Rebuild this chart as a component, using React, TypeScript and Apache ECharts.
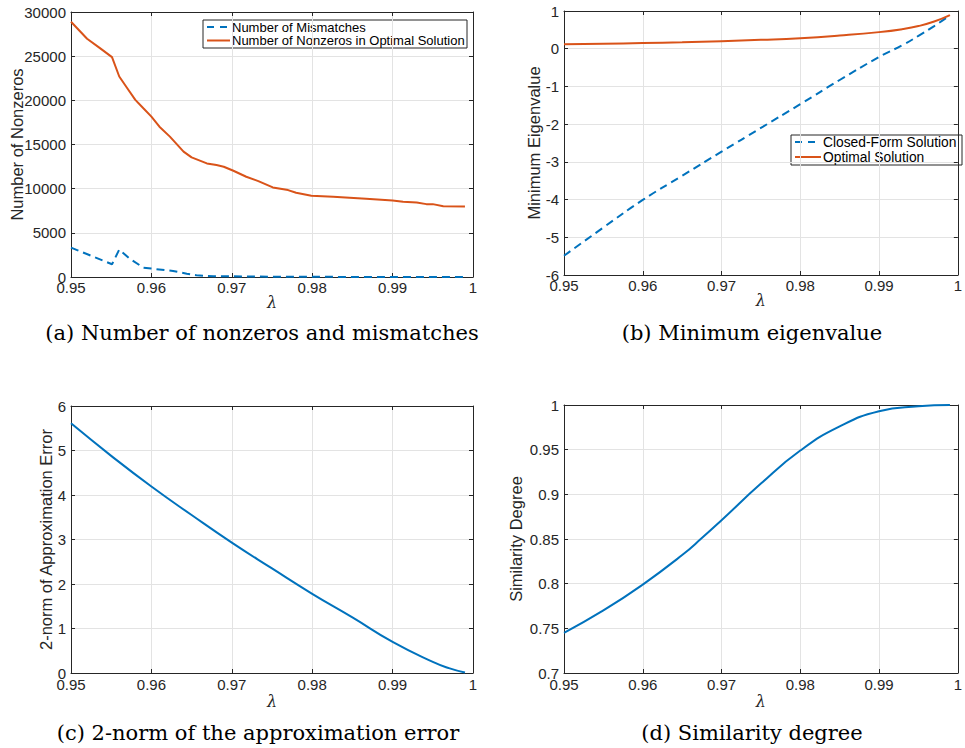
import React, { useEffect, useRef } from "react";
import * as echarts from "echarts";

// (a) Number of nonzeros and mismatches
const mismatchLambda = [0.95, 0.9551, 0.956, 0.9573, 0.959, 0.96, 0.9627, 0.9644, 0.9656, 0.9677, 0.97, 0.975, 0.98, 0.985, 0.99, 0.995, 0.999];
const mismatchValues = [3330, 1440, 3100, 2080, 1060, 950, 680, 380, 190, 75, 75, 30, 20, 10, 5, 5, 5];
const nonzeroLambda = [0.95, 0.952, 0.9536, 0.9551, 0.956, 0.957, 0.958, 0.959, 0.96, 0.961, 0.9623, 0.964, 0.965, 0.9669, 0.9681, 0.969, 0.9702, 0.9718, 0.9733, 0.9751, 0.977, 0.978, 0.9799, 0.9826, 0.9867, 0.99, 0.9913, 0.993, 0.9942, 0.995, 0.9963, 0.999];
const nonzeroValues = [28900, 26970, 25910, 24890, 22700, 21370, 20050, 19100, 18160, 17020, 15890, 14190, 13540, 12860, 12670, 12480, 12030, 11350, 10860, 10140, 9840, 9530, 9190, 9080, 8850, 8660, 8510, 8440, 8250, 8250, 8020, 7980];

// (b) Minimum eigenvalue
const eigLambda = [0.95, 0.955, 0.96, 0.965, 0.97, 0.975, 0.98, 0.985, 0.99, 0.993, 0.995, 0.997, 0.999];
const closedFormValues = [-5.49, -4.74, -4.01, -3.37, -2.73, -2.1, -1.47, -0.83, -0.22, 0.1, 0.34, 0.6, 0.885];
const optimalValues = [0.117, 0.13, 0.15, 0.17, 0.2, 0.235, 0.28, 0.35, 0.44, 0.52, 0.6, 0.72, 0.89];

// (c) 2-norm of approximation error
const errLambda = [0.95, 0.955, 0.96, 0.965, 0.97, 0.975, 0.98, 0.985, 0.99, 0.995, 0.997, 0.999];
const errValues = [5.61, 4.88, 4.19, 3.55, 2.93, 2.35, 1.78, 1.25, 0.7, 0.25, 0.11, 0.01];

// (d) Similarity degree
const simLambda = [0.95, 0.955, 0.96, 0.965, 0.9675, 0.97, 0.975, 0.98, 0.985, 0.99, 0.995, 0.999];
const simValues = [0.745, 0.77, 0.799, 0.832, 0.851, 0.871, 0.912, 0.949, 0.976, 0.993, 0.9985, 1.0];

const xTicks = [0.95, 0.96, 0.97, 0.98, 0.99, 1];
const captions = [
  "(a) Number of nonzeros and mismatches",
  "(b) Minimum eigenvalue",
  "(c) 2-norm of the approximation error",
  "(d) Similarity degree",
];
const legendA = ["Number of Mismatches", "Number of Nonzeros in Optimal Solution"];
const legendB = ["Closed-Form Solution", "Optimal Solution"];

const BLUE = "#0072BD";
const ORANGE = "#D95319";
const AX = "#262626";
const GRIDC = "#e3e3e3";
const SANS = "Liberation Sans, Arial, Helvetica, sans-serif";
const SERIF = "DejaVu Serif, serif";

const zip = (xs: number[], ys: number[]) => xs.map((x, i) => [x, ys[i]]);

function legendBox(x: number, y: number, w: number, h: number, lineLen: number, rowYs: number[], names: string[], fontSize: number) {
  const children: any[] = [
    { type: "rect", shape: { x, y, width: w, height: h }, style: { fill: "#fff", stroke: AX, lineWidth: 1 } },
  ];
  const colors = [BLUE, ORANGE];
  rowYs.forEach((ry, i) => {
    children.push({
      type: "line",
      shape: { x1: x + 4, y1: ry, x2: x + 3 + lineLen, y2: ry },
      style: { stroke: colors[i], lineWidth: 2, lineDash: i === 0 ? [7, 6] : null },
    });
    children.push({
      type: "text",
      x: x + 5 + lineLen,
      y: ry,
      style: { text: names[i], fontFamily: SANS, fontSize, fill: "#000", verticalAlign: "middle", align: "left" },
    });
  });
  return { type: "group", z: 100, children };
}

export default function App() {
  const ref = useRef<HTMLDivElement>(null);
  useEffect(() => {
    if (!ref.current) return;
    const chart = echarts.init(ref.current, null, { renderer: "svg" });

    const grids = [
      { left: 71, top: 12, width: 402, height: 265 },
      { left: 564, top: 11, width: 402, height: 264 },
      { left: 71, top: 406, width: 402, height: 267 },
      { left: 564, top: 405, width: 402, height: 268 },
    ];
    const yCfg = [
      { min: 0, max: 30000, interval: 5000, name: "Number of Nonzeros", gap: 45.5 },
      { min: -6, max: 1, interval: 1, name: "Minimum Eigenvalue", gap: 21.5 },
      { min: 0, max: 6, interval: 1, name: "2-norm of Approximation Error", gap: 16.5 },
      { min: 0.7, max: 1, interval: 0.05, name: "Similarity Degree", gap: 39.5 },
    ];
    const xNameGap = [17, 17, 20, 20];
    const xLabelMargin = [3, 3, 4, 4];

    const xAxes: any[] = [];
    const yAxes: any[] = [];
    grids.forEach((g, i) => {
      xAxes.push({
        type: "value",
        gridIndex: i,
        position: "bottom",
        min: 0.95,
        max: 1,
        interval: 0.01,
        name: "λ",
        nameLocation: "middle",
        nameGap: xNameGap[i],
        nameMoveOverlap: false,
        nameTextStyle: { fontFamily: SERIF, fontStyle: "italic", fontSize: 16, color: AX },
        axisLine: { show: true, onZero: false, lineStyle: { color: AX, width: 1 } },
        axisTick: { show: true, inside: true, length: 4, lineStyle: { color: AX } },
        axisLabel: {
          color: AX,
          fontFamily: SANS,
          fontSize: 15,
          margin: xLabelMargin[i],
          showMinLabel: true,
          showMaxLabel: true,
          formatter: (v: number) => {
            const t = xTicks.find((k) => Math.abs(k - v) < 1e-6);
            return t === undefined ? "" : String(t);
          },
        },
        splitLine: { show: true, lineStyle: { color: GRIDC, width: 1 } },
      });
      xAxes.push({
        type: "value",
        gridIndex: i,
        position: "top",
        min: 0.95,
        max: 1,
        interval: 0.01,
        axisLine: { show: true, onZero: false, lineStyle: { color: AX, width: 1 } },
        axisTick: { show: true, inside: true, length: 4, lineStyle: { color: AX } },
        axisLabel: { show: false },
        splitLine: { show: false },
      });
      const y = yCfg[i];
      yAxes.push({
        type: "value",
        gridIndex: i,
        position: "left",
        min: y.min,
        max: y.max,
        interval: y.interval,
        name: y.name,
        nameLocation: "middle",
        nameGap: y.gap,
        nameMoveOverlap: false,
        nameTextStyle: { fontFamily: SANS, fontSize: 16.5, color: AX },
        axisLine: { show: true, onZero: false, lineStyle: { color: AX, width: 1 } },
        axisTick: { show: true, inside: true, length: 4, lineStyle: { color: AX } },
        axisLabel: {
          color: AX,
          fontFamily: SANS,
          fontSize: 15,
          margin: 5,
          showMinLabel: true,
          showMaxLabel: true,
          formatter: (v: number) => String(Math.round(v * 1000) / 1000),
        },
        splitLine: { show: true, lineStyle: { color: GRIDC, width: 1 } },
      });
      yAxes.push({
        type: "value",
        gridIndex: i,
        position: "right",
        min: y.min,
        max: y.max,
        interval: y.interval,
        axisLine: { show: true, onZero: false, lineStyle: { color: AX, width: 1 } },
        axisTick: { show: true, inside: true, length: 4, lineStyle: { color: AX } },
        axisLabel: { show: false },
        splitLine: { show: false },
      });
    });

    const lineSeries = (name: string, xi: number, data: number[][], color: string, dashed: boolean, smooth: boolean) => ({
      type: "line",
      name,
      xAxisIndex: xi * 2,
      yAxisIndex: xi * 2,
      data,
      showSymbol: false,
      symbol: "none",
      smooth: smooth ? 0.5 : false,
      lineStyle: { color, width: 2, type: dashed ? [8, 5] : "solid" },
      itemStyle: { color },
      z: 3,
    });

    const option: any = {
      animation: false,
      backgroundColor: "#ffffff",
      grid: grids.map((g) => ({ ...g, containLabel: false })),
      xAxis: xAxes,
      yAxis: yAxes,
      title: [
        { text: captions[0], left: 262, top: 322 },
        { text: captions[1], left: 752, top: 322 },
        { text: captions[2], left: 258, top: 722 },
        { text: captions[3], left: 752, top: 722 },
      ].map((t) => ({
        ...t,
        textAlign: "center",
        padding: 0,
        textStyle: { fontFamily: SERIF, fontSize: 21, fontWeight: "normal", color: "#000" },
      })),
      graphic: [
        legendBox(203, 20, 264, 28, 24, [27, 40.5], legendA, 13),
        legendBox(791, 135, 171, 30, 27, [142, 157], legendB, 13.8),
      ],
      series: [
        lineSeries(legendA[0], 0, zip(mismatchLambda, mismatchValues), BLUE, true, false),
        lineSeries(legendA[1], 0, zip(nonzeroLambda, nonzeroValues), ORANGE, false, false),
        lineSeries(legendB[0], 1, zip(eigLambda, closedFormValues), BLUE, true, true),
        lineSeries(legendB[1], 1, zip(eigLambda, optimalValues), ORANGE, false, true),
        lineSeries("Approximation Error", 2, zip(errLambda, errValues), BLUE, false, true),
        lineSeries("Similarity Degree", 3, zip(simLambda, simValues), BLUE, false, true),
      ],
    };
    chart.setOption(option);
    return () => chart.dispose();
  }, []);
  return (
    <div
      ref={ref}
      style={{ position: "fixed", left: 0, top: 0, width: 965, height: 748, background: "#fff" }}
    />
  );
}
